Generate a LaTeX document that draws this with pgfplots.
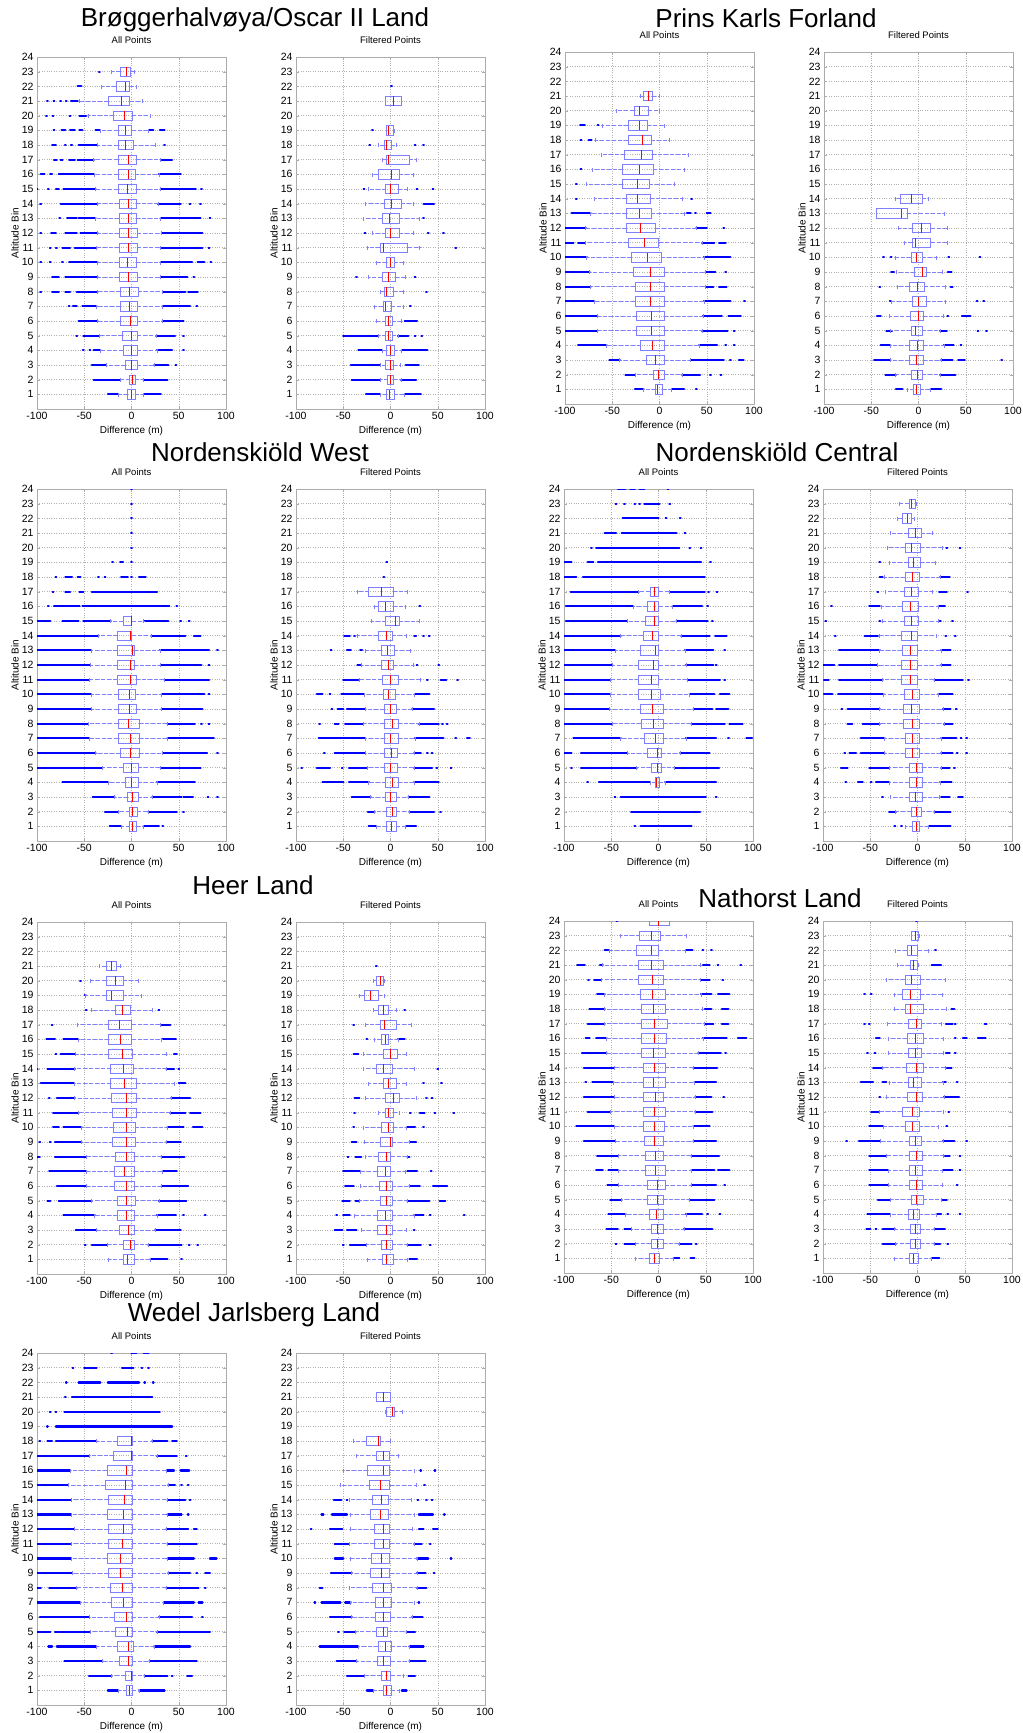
\documentclass[border=0pt]{standalone}
\usepackage{fontspec}
\setmainfont{Liberation Sans}
\usepackage{pgfplots}
\pgfplotsset{compat=1.18}
\usepgfplotslibrary{statistics}
\pgfplotsset{
 pan/.style={
  scale only axis, width=189pt, height=352pt, anchor=north west,
  xmin=-100, xmax=100, ymin=0, ymax=24,
  xtick={-100,-50,0,50,100}, ytick={1,...,24},
  grid=major, grid style={dotted, gray!60, line width=0.5pt},
  axis line style={gray!65, line width=0.8pt},
  tick style={gray!65}, tick align=inside, major tick length=3pt,
  /pgf/number format/assume math mode=true,
  ticklabel style={font=\fontsize{10.5}{12}\selectfont},
  xlabel={Difference (m)}, ylabel={Altitude Bin},
  xlabel style={at={(axis description cs:0.5,-0.0625)}, anchor=center, font=\fontsize{10}{12}\selectfont},
  ylabel style={at={(axis description cs:-0.116,0.5)}, anchor=center, font=\fontsize{10}{12}\selectfont},
  title style={at={(axis description cs:0.5,1.031)}, anchor=center, font=\fontsize{9.5}{11}\selectfont},
  boxplot/draw direction=x, boxplot/box extend=0.62, boxplot/whisker extend=0.32,
  boxplot/every median/.style={draw=red, line width=0.8pt, solid},
  boxplot/every whisker/.style={dash pattern=on 4pt off 2pt},
 },
 bxs/.style={draw=blue!50, line width=0.7pt, mark=none},
}
\newcommand\BX[6]{\addplot[bxs, boxplot prepared={draw position=#1, lower whisker=#2, lower quartile=#3, median=#4, upper quartile=#5, upper whisker=#6}] coordinates {};}
\newcommand\OL[1]{\addplot[draw=none, mark=none, forget plot, error bars/.cd, x dir=both, x explicit, error mark=none, error bar style={line width=2.3pt, draw=blue, line cap=round, solid}] table[row sep=\\, x expr={(\thisrow{lo}+\thisrow{hi})/2}, y=y, x error expr={max((\thisrow{hi}-\thisrow{lo})/2,0.3)}] {y lo hi\\ #1};}
\begin{document}
\begin{tikzpicture}
\fill[white] (0,0) rectangle (1023pt,-1733pt);
\useasboundingbox (0,0) rectangle (1023pt,-1733pt);
\tikzset{ttl/.style={font=\fontsize{26}{30}\selectfont, anchor=center}}
\node[ttl] at (255pt,-20pt) {Brøggerhalvøya/Oscar II Land};
\node[ttl] at (766pt,-18pt) {Prins Karls Forland};
\node[ttl] at (260pt,-452pt) {Nordenskiöld West};
\node[ttl] at (777pt,-452pt) {Nordenskiöld Central};
\node[ttl] at (253pt,-885pt) {Heer Land};
\node[ttl] at (780pt,-898pt) {Nathorst Land};
\node[ttl] at (254pt,-1315pt) {Wedel Jarlsberg Land};

% ---------- 1A Broggerhalvoya All
\begin{axis}[pan, at={(37pt,-57pt)}, title={All Points}]
\OL{23 -34 -34\\22 -57 -53\\21 -89 -89\\21 -82 -82\\21 -75 -75\\21 -69 -69\\21 -64 -57\\20 -90 -90\\20 -83 -83\\20 -65 -65\\20 -55 -48\\19 -82 -82\\19 -74 -70\\19 -65 -60\\19 -55 -52\\19 -38 -34\\19 19 23\\19 30 35\\18 -84 -80\\18 -70 -70\\18 -64 -63\\18 -56 -37\\18 35 35\\17 -82 -79\\17 -75 -73\\17 -66 -60\\17 -57 -40\\17 32 43\\16 -96 -92\\16 -86 -84\\16 -77 -40\\16 29 52\\15 -100 -100\\15 -88 -88\\15 -80 -77\\15 -72 -38\\15 31 68\\15 74 74\\14 -96 -96\\14 -75 -36\\14 28 52\\14 62 62\\14 73 73\\13 -76 -76\\13 -68 -58\\13 -56 -38\\13 31 73\\13 83 83\\12 -96 -96\\12 -85 -80\\12 -70 -58\\12 -54 -36\\12 32 75\\11 -86 -86\\11 -80 -79\\11 -73 -65\\11 -60 -37\\11 31 75\\11 82 82\\10 -96 -96\\10 -86 -86\\10 -73 -73\\10 -66 -36\\10 31 64\\10 70 77\\10 84 84\\9 -84 -77\\9 -70 -36\\9 31 59\\9 66 66\\8 -96 -96\\8 -84 -77\\8 -70 -65\\8 -58 -36\\8 33 57\\8 60 70\\7 -66 -66\\7 -62 -58\\7 -52 -37\\7 33 62\\7 69 69\\6 -56 -36\\6 33 55\\5 -58 -58\\5 -51 -34\\5 26 46\\5 55 55\\4 -51 -51\\4 -44 -44\\4 -40 -33\\4 27 43\\4 55 55\\3 -42 -27\\3 24 39\\3 47 47\\2 -40 -12\\2 13 38\\1 -25 -14\\1 14 31\\}
\BX{23}{-21}{-12}{-5}{-1}{3}
\BX{22}{-32}{-16}{-6}{-2}{5}
\BX{21}{-55}{-25}{-11}{-2}{11}
\BX{20}{-46}{-19}{-8}{1}{20}
\BX{19}{-33}{-14}{-6}{0}{18}
\BX{18}{-36}{-14}{-6}{2}{25}
\BX{17}{-40}{-14}{-3}{5}{30}
\BX{16}{-39}{-14}{-3}{4}{29}
\BX{15}{-38}{-14}{-4}{5}{30}
\BX{14}{-36}{-13}{-3}{5}{28}
\BX{13}{-38}{-13}{-3}{5}{31}
\BX{12}{-36}{-13}{-3}{6}{32}
\BX{11}{-37}{-13}{-3}{6}{31}
\BX{10}{-36}{-13}{-4}{5}{31}
\BX{9}{-36}{-13}{-3}{6}{31}
\BX{8}{-36}{-12}{-2}{7}{33}
\BX{7}{-37}{-12}{-2}{6}{33}
\BX{6}{-36}{-12}{-1}{6}{33}
\BX{5}{-34}{-10}{0}{6}{26}
\BX{4}{-33}{-9}{0}{6}{27}
\BX{3}{-27}{-7}{0}{6}{24}
\BX{2}{-12}{-2}{1}{4}{13}
\BX{1}{-14}{-4}{0}{4}{13}
\end{axis}

% ---------- 1B Broggerhalvoya Filtered
\begin{axis}[pan, at={(296pt,-57pt)}, title={Filtered Points}]
\OL{22 1 1\\19 -19 -19\\18 -22 -22\\18 26 26\\18 35 35\\15 -28 -28\\15 28 28\\15 45 45\\14 35 46\\13 35 35\\12 -27 -27\\12 40 40\\12 56 56\\11 69 69\\9 -36 -36\\9 26 26\\8 38 38\\7 21 21\\6 15 28\\5 -50 -13\\5 8 19\\5 26 26\\5 33 33\\4 -34 -9\\4 12 39\\3 -42 -11\\3 16 30\\2 -41 -11\\2 11 27\\1 -26 -11\\1 15 32\\}
\BX{21}{-5}{-5}{3}{11}{11}
\BX{19}{-4}{-4}{-2}{3}{4}
\BX{18}{-13}{-7}{-4}{1}{6}
\BX{17}{-9}{-4}{-2}{20}{27}
\BX{16}{-19}{-13}{1}{9}{24}
\BX{15}{-23}{-5}{0}{8}{18}
\BX{14}{-27}{-6}{1}{11}{24}
\BX{13}{-29}{-9}{-1}{9}{31}
\BX{12}{-19}{-5}{0}{9}{24}
\BX{11}{-24}{-11}{-7}{18}{31}
\BX{10}{-15}{-4}{0}{4}{14}
\BX{9}{-23}{-9}{-2}{5}{16}
\BX{8}{-11}{-6}{-4}{3}{14}
\BX{7}{-17}{-8}{-5}{1}{14}
\BX{6}{-15}{-5}{-2}{2}{12}
\BX{5}{-13}{-5}{-2}{2}{8}
\BX{4}{-9}{-4}{0}{4}{11}
\BX{3}{-11}{-5}{0}{3}{10}
\BX{2}{-11}{-3}{0}{3}{11}
\BX{1}{-11}{-4}{-1}{4}{15}
\end{axis}

% ---------- 2A Prins Karls All
\begin{axis}[pan, at={(565pt,-52pt)}, title={All Points}]
\OL{19 -84 -79\\19 -65 -65\\18 -83 -83\\18 -75 -72\\16 -83 -83\\15 -88 -88\\14 -88 -88\\14 34 34\\13 -93 -73\\13 29 33\\13 38 38\\13 50 54\\12 -100 -78\\12 39 50\\12 68 68\\11 -100 -91\\11 -86 -79\\11 45 58\\11 63 70\\10 -100 -77\\10 47 75\\9 -100 -74\\9 49 59\\9 70 70\\8 -100 -73\\8 49 57\\8 63 71\\7 -100 -69\\7 47 75\\7 90 90\\6 -100 -66\\6 46 66\\6 73 86\\5 -100 -66\\5 45 72\\5 79 79\\4 -86 -56\\4 42 61\\4 70 70\\4 79 79\\3 -53 -42\\3 33 68\\3 75 75\\3 84 89\\2 -36 -26\\2 24 43\\2 54 54\\2 65 65\\1 -26 -17\\1 13 26\\1 39 39\\}
\BX{21}{-20}{-17}{-12}{-8}{0}
\BX{20}{-46}{-27}{-21}{-12}{0}
\BX{19}{-61}{-33}{-21}{-13}{5}
\BX{18}{-68}{-33}{-18}{-9}{10}
\BX{17}{-62}{-37}{-19}{-8}{30}
\BX{16}{-71}{-39}{-21}{-7}{26}
\BX{15}{-77}{-39}{-23}{-11}{16}
\BX{14}{-69}{-35}{-23}{-10}{24}
\BX{13}{-73}{-35}{-21}{-9}{26}
\BX{12}{-78}{-35}{-20}{-4}{39}
\BX{11}{-79}{-33}{-16}{-1}{45}
\BX{10}{-77}{-30}{-13}{2}{47}
\BX{9}{-74}{-28}{-10}{5}{49}
\BX{8}{-73}{-26}{-10}{5}{49}
\BX{7}{-69}{-26}{-10}{5}{47}
\BX{6}{-66}{-24}{-9}{5}{46}
\BX{5}{-66}{-24}{-9}{5}{45}
\BX{4}{-56}{-20}{-7}{5}{42}
\BX{3}{-42}{-14}{-4}{5}{33}
\BX{2}{-26}{-7}{-1}{5}{24}
\BX{1}{-17}{-4}{-2}{3}{13}
\end{axis}

% ---------- 2B Prins Karls Filtered
\begin{axis}[pan, at={(824pt,-52pt)}, title={Filtered Points}]
\OL{10 -37 -37\\10 -29 -29\\10 32 32\\10 65 65\\9 -29 -26\\9 31 35\\8 -41 -41\\8 34 36\\7 -30 -30\\7 62 62\\7 69 69\\6 -44 -40\\6 31 31\\6 46 55\\5 -34 -28\\5 23 30\\5 63 63\\5 72 72\\4 -40 -30\\4 27 37\\4 45 45\\3 -47 -30\\3 24 36\\3 42 49\\3 88 88\\2 -35 -24\\2 23 39\\1 -24 -17\\1 13 24\\}
\BX{14}{-24}{-19}{-8}{4}{10}
\BX{13}{-45}{-45}{-18}{-12}{27}
\BX{12}{-21}{-6}{3}{13}{31}
\BX{11}{-15}{-7}{-3}{13}{30}
\BX{10}{-25}{-8}{-2}{4}{19}
\BX{9}{-23}{-4}{4}{8}{25}
\BX{8}{-22}{-10}{-1}{6}{28}
\BX{7}{-29}{-6}{0}{8}{28}
\BX{6}{-31}{-9}{0}{5}{26}
\BX{5}{-30}{-8}{-3}{4}{23}
\BX{4}{-30}{-10}{-1}{5}{27}
\BX{3}{-30}{-10}{-2}{5}{24}
\BX{2}{-24}{-8}{-1}{4}{23}
\BX{1}{-12}{-5}{-2}{2}{13}
\end{axis}

% ---------- 3A Nordenskiold West All
\begin{axis}[pan, at={(37pt,-489pt)}, title={All Points}]
\OL{24 0 0\\23 0 0\\22 0 0\\21 0 0\\20 0 0\\19 -20 -20\\19 -12 -9\\19 0 0\\18 -80 -80\\18 -70 -63\\18 -57 -54\\18 -35 -35\\18 -28 -28\\18 -11 -4\\18 0 0\\18 8 15\\17 -83 -83\\17 -70 -65\\17 -55 -51\\17 -42 27\\16 -88 -88\\16 -82 -55\\16 -52 40\\16 48 48\\15 -100 -86\\15 -73 -56\\15 -51 -22\\15 13 39\\15 52 52\\15 61 61\\14 -100 -35\\14 21 57\\14 66 73\\13 -100 -43\\13 30 82\\13 91 91\\12 -100 -44\\12 31 74\\12 82 82\\11 -100 -45\\11 35 82\\10 -100 -43\\10 32 77\\10 82 82\\9 -100 -43\\9 32 75\\8 -100 -46\\8 38 67\\8 74 74\\8 82 82\\7 -100 -45\\7 38 87\\6 -100 -38\\6 33 80\\6 91 91\\5 -100 -31\\5 31 73\\4 -73 -25\\4 27 67\\3 -41 -18\\3 22 53\\3 55 65\\3 81 81\\3 91 91\\2 -28 -14\\2 18 48\\2 55 55\\1 -23 -11\\1 13 29\\1 33 33\\}
\BX{15}{-22}{-9}{0}{0}{13}
\BX{14}{-35}{-15}{-1}{0}{21}
\BX{13}{-43}{-15}{1}{3}{30}
\BX{12}{-44}{-15}{-1}{3}{31}
\BX{11}{-45}{-15}{-1}{5}{35}
\BX{10}{-43}{-14}{-2}{4}{32}
\BX{9}{-43}{-14}{-2}{5}{32}
\BX{8}{-46}{-14}{-3}{8}{38}
\BX{7}{-45}{-14}{-1}{8}{38}
\BX{6}{-38}{-12}{-1}{8}{33}
\BX{5}{-31}{-9}{0}{7}{31}
\BX{4}{-25}{-6}{0}{7}{27}
\BX{3}{-18}{-4}{1}{7}{22}
\BX{2}{-14}{-2}{1}{6}{18}
\BX{1}{-11}{-2}{1}{5}{13}
\end{axis}

% ---------- 3B Nordenskiold West Filtered
\begin{axis}[pan, at={(296pt,-489pt)}, title={Filtered Points}]
\OL{19 -4 -4\\18 -7 -7\\16 31 31\\14 -49 -43\\14 -38 -38\\14 25 27\\14 35 35\\14 41 41\\13 -63 -63\\13 -46 -42\\13 -32 -30\\12 -35 -32\\12 28 28\\12 51 51\\11 -50 -34\\11 39 39\\11 53 59\\11 71 71\\10 -78 -72\\10 -64 -64\\10 -52 -28\\10 26 41\\9 -62 -62\\9 -56 -50\\9 -46 -27\\9 23 46\\8 -75 -75\\8 -59 -55\\8 -48 -29\\8 30 51\\8 55 55\\8 60 60\\7 -76 -27\\7 26 56\\7 69 69\\7 81 84\\6 -70 -70\\6 -59 -27\\6 25 32\\6 39 39\\6 44 44\\5 -94 -94\\5 -78 -64\\5 -51 -51\\5 -44 -25\\5 25 44\\5 49 49\\5 64 64\\4 -72 -50\\4 -44 -23\\4 25 51\\3 -41 -21\\3 19 41\\2 -24 -17\\2 20 46\\2 53 53\\1 -23 -15\\1 17 27\\}
\BX{17}{-35}{-23}{-10}{3}{18}
\BX{16}{-17}{-13}{-5}{3}{16}
\BX{15}{-20}{-5}{5}{9}{30}
\BX{14}{-35}{-13}{-4}{2}{17}
\BX{13}{-27}{-10}{-3}{4}{21}
\BX{12}{-31}{-10}{-2}{3}{24}
\BX{11}{-33}{-9}{0}{8}{32}
\BX{10}{-28}{-8}{-2}{5}{25}
\BX{9}{-27}{-7}{0}{6}{23}
\BX{8}{-29}{-7}{2}{8}{30}
\BX{7}{-27}{-6}{0}{8}{26}
\BX{6}{-27}{-7}{1}{7}{25}
\BX{5}{-25}{-6}{0}{7}{25}
\BX{4}{-23}{-5}{2}{8}{25}
\BX{3}{-21}{-5}{0}{6}{19}
\BX{2}{-17}{-4}{2}{6}{20}
\BX{1}{-15}{-4}{1}{6}{16}
\end{axis}

% ---------- 4A Nordenskiold Central All
\begin{axis}[pan, at={(564pt,-489pt)}, title={All Points}]
\OL{24 -43 -35\\24 -30 -25\\24 -20 -15\\24 10 10\\23 -45 -45\\23 -36 -36\\23 -25 -25\\23 -20 -20\\23 -15 1\\23 12 12\\22 -38 0\\22 8 8\\22 23 23\\21 -57 -45\\21 -39 19\\21 28 28\\20 -71 -71\\20 -66 22\\20 33 33\\20 45 45\\19 -100 -92\\19 -75 -69\\19 -64 45\\19 55 55\\18 -100 -87\\18 -80 49\\17 -93 -21\\17 12 49\\17 53 53\\17 62 62\\16 -98 -27\\16 15 46\\16 52 52\\15 -98 -33\\15 19 52\\15 57 57\\14 -100 -40\\14 24 54\\14 60 72\\13 -100 -46\\13 28 58\\13 70 70\\12 -100 -49\\12 29 58\\12 61 61\\11 -100 -51\\11 31 65\\11 70 70\\10 -100 -51\\10 33 59\\10 65 75\\9 -100 -52\\9 37 57\\9 61 74\\8 -100 -49\\8 35 70\\8 75 89\\7 -90 -40\\7 29 61\\7 74 74\\7 93 99\\6 -100 -92\\6 -82 -33\\6 23 54\\5 -92 -92\\5 -82 -23\\5 17 64\\4 -75 -75\\4 -63 -9\\4 7 61\\3 -46 -46\\3 -40 50\\3 61 61\\2 -29 44\\1 -25 -25\\1 -19 35\\}
\BX{17}{-21}{-9}{-4}{0}{12}
\BX{16}{-27}{-12}{-4}{0}{15}
\BX{15}{-33}{-14}{-4}{0}{19}
\BX{14}{-40}{-16}{-6}{0}{24}
\BX{13}{-46}{-19}{-3}{0}{28}
\BX{12}{-49}{-21}{-5}{0}{29}
\BX{11}{-51}{-21}{-8}{0}{31}
\BX{10}{-51}{-21}{-8}{2}{33}
\BX{9}{-52}{-19}{-6}{5}{37}
\BX{8}{-49}{-18}{-5}{5}{35}
\BX{7}{-40}{-15}{-3}{5}{29}
\BX{6}{-33}{-12}{-1}{3}{23}
\BX{5}{-23}{-8}{-1}{3}{17}
\BX{4}{-9}{-3}{-2}{1}{7}
\end{axis}

% ---------- 4B Nordenskiold Central Filtered
\begin{axis}[pan, at={(823pt,-489pt)}, title={Filtered Points}]
\OL{20 31 31\\20 45 45\\19 -40 -40\\18 -40 -37\\18 24 34\\17 -42 -42\\17 23 31\\17 53 53\\16 -91 -91\\16 -51 -40\\16 23 29\\15 -97 -97\\15 -40 -40\\15 24 24\\15 37 37\\14 -87 -87\\14 -56 -42\\14 30 30\\14 40 40\\13 -83 -40\\13 25 35\\12 -100 -88\\12 -83 -43\\12 25 35\\11 -99 -94\\11 -83 -37\\11 18 48\\11 54 54\\10 -99 -90\\10 -84 -36\\10 22 37\\9 -80 -80\\9 -74 -40\\9 27 35\\9 41 41\\8 -74 -69\\8 -58 -40\\8 28 37\\7 -60 -35\\7 25 41\\7 46 46\\7 52 52\\6 -77 -77\\6 -72 -65\\6 -60 -35\\6 25 37\\6 42 42\\6 52 52\\5 -81 -74\\5 -51 -30\\5 25 34\\5 39 39\\4 -76 -76\\4 -63 -58\\4 -49 -49\\4 -44 -30\\4 24 36\\3 -37 -37\\3 25 34\\3 43 48\\2 -30 -23\\2 18 35\\1 -24 -24\\1 -17 -17\\1 12 35\\}
\BX{23}{-19}{-9}{-6}{-2}{-1}
\BX{22}{-21}{-16}{-11}{-7}{-3}
\BX{21}{-29}{-10}{-2}{4}{16}
\BX{20}{-32}{-13}{-6}{3}{26}
\BX{19}{-30}{-10}{-4}{3}{19}
\BX{18}{-35}{-13}{-5}{2}{24}
\BX{17}{-34}{-14}{-6}{1}{16}
\BX{16}{-38}{-16}{-8}{1}{22}
\BX{15}{-37}{-14}{-6}{1}{22}
\BX{14}{-40}{-17}{-6}{0}{20}
\BX{13}{-40}{-16}{-8}{0}{25}
\BX{12}{-43}{-17}{-8}{0}{25}
\BX{11}{-37}{-17}{-8}{0}{18}
\BX{10}{-36}{-14}{-5}{2}{22}
\BX{9}{-40}{-15}{-6}{2}{27}
\BX{8}{-40}{-15}{-5}{2}{28}
\BX{7}{-35}{-13}{-5}{2}{25}
\BX{6}{-35}{-13}{-5}{2}{25}
\BX{5}{-30}{-9}{-1}{5}{25}
\BX{4}{-30}{-9}{-1}{5}{24}
\BX{3}{-29}{-9}{-2}{5}{23}
\BX{2}{-23}{-7}{-1}{4}{18}
\BX{1}{-13}{-5}{-1}{2}{12}
\end{axis}

% ---------- 5A Heer Land All
\begin{axis}[pan, at={(37pt,-922pt)}, title={All Points}]
\OL{20 -54 -54\\19 -49 -49\\18 -48 -48\\18 29 29\\17 -84 -84\\17 32 41\\16 -90 -81\\16 -72 -57\\16 32 47\\15 -80 -80\\15 -75 -60\\15 45 48\\14 -100 -100\\14 -89 -60\\14 37 45\\14 50 50\\13 -96 -61\\13 50 57\\12 -87 -87\\12 -79 -60\\12 42 62\\11 -83 -56\\11 41 57\\11 62 73\\10 -83 -77\\10 -72 -53\\10 38 55\\10 65 75\\9 -97 -97\\9 -86 -86\\9 -81 -53\\9 37 52\\8 -100 -97\\8 -81 -48\\8 32 56\\7 -87 -48\\7 33 48\\6 -79 -48\\6 32 60\\5 -89 -86\\5 -77 -42\\5 29 58\\4 -72 -39\\4 27 47\\4 55 55\\4 78 78\\3 -59 -37\\3 25 52\\2 -49 -49\\2 -42 -26\\2 18 53\\2 61 61\\2 70 70\\1 20 38\\1 53 53\\}
\BX{21}{-34}{-27}{-21}{-16}{-12}
\BX{20}{-44}{-27}{-17}{-9}{7}
\BX{19}{-49}{-27}{-21}{-9}{10}
\BX{18}{-42}{-17}{-10}{-1}{22}
\BX{17}{-57}{-24}{-13}{0}{31}
\BX{16}{-56}{-24}{-12}{0}{32}
\BX{15}{-59}{-24}{-10}{1}{37}
\BX{14}{-60}{-22}{-9}{2}{37}
\BX{13}{-61}{-22}{-7}{5}{45}
\BX{12}{-60}{-21}{-5}{5}{42}
\BX{11}{-56}{-20}{-5}{5}{41}
\BX{10}{-53}{-19}{-5}{4}{38}
\BX{9}{-53}{-20}{-5}{4}{37}
\BX{8}{-48}{-17}{-5}{3}{32}
\BX{7}{-48}{-18}{-7}{3}{33}
\BX{6}{-48}{-18}{-5}{3}{32}
\BX{5}{-42}{-15}{-5}{4}{29}
\BX{4}{-39}{-15}{-5}{3}{27}
\BX{3}{-37}{-13}{-3}{3}{25}
\BX{2}{-26}{-9}{-1}{3}{18}
\BX{1}{-25}{-9}{-4}{3}{20}
\end{axis}

% ---------- 5B Heer Land Filtered
\begin{axis}[pan, at={(296pt,-922pt)}, title={Filtered Points}]
\OL{21 -15 -15\\18 15 15\\17 -39 -39\\16 -25 -25\\16 8 15\\15 -39 -34\\14 50 50\\13 35 35\\13 54 54\\12 -38 -33\\12 38 38\\12 44 44\\11 -38 -38\\11 21 21\\11 31 36\\11 47 47\\11 67 67\\10 -39 -39\\10 18 26\\10 35 35\\9 -41 -36\\9 20 27\\8 -45 -45\\8 -37 -31\\8 18 20\\7 -50 -32\\7 18 28\\7 43 43\\6 -48 -39\\6 20 31\\6 45 60\\5 -51 -43\\5 -37 -33\\5 18 41\\5 52 58\\4 -57 -57\\4 -50 -43\\4 25 35\\4 42 42\\4 78 78\\3 -59 -51\\3 -46 -36\\3 25 25\\2 -50 -50\\2 -43 -26\\2 18 32\\2 42 42\\1 20 28\\}
\BX{20}{-18}{-15}{-11}{-8}{-6}
\BX{19}{-33}{-28}{-21}{-13}{-6}
\BX{18}{-18}{-13}{-7}{-2}{6}
\BX{17}{-27}{-11}{-6}{6}{22}
\BX{16}{-17}{-10}{-5}{-2}{8}
\BX{15}{-29}{-8}{0}{7}{17}
\BX{14}{-29}{-15}{-8}{2}{25}
\BX{13}{-23}{-8}{-2}{6}{17}
\BX{12}{-27}{-5}{3}{9}{27}
\BX{11}{-13}{-5}{-2}{3}{9}
\BX{10}{-29}{-10}{-2}{3}{17}
\BX{9}{-28}{-11}{0}{2}{20}
\BX{8}{-27}{-13}{-4}{0}{18}
\BX{7}{-32}{-14}{-5}{0}{16}
\BX{6}{-32}{-12}{-4}{2}{20}
\BX{5}{-33}{-11}{-4}{2}{18}
\BX{4}{-38}{-14}{-5}{2}{25}
\BX{3}{-31}{-14}{-4}{2}{17}
\BX{2}{-26}{-10}{-4}{2}{18}
\BX{1}{-25}{-9}{-4}{3}{18}
\end{axis}

% ---------- 6A Nathorst All
\begin{axis}[pan, at={(564pt,-921pt)}, title={All Points}]
\OL{24 -44 -44\\22 -57 -53\\22 29 36\\22 47 47\\22 56 56\\21 -86 -78\\21 -62 -59\\21 47 54\\21 63 63\\21 87 87\\20 -74 -74\\20 -68 -61\\20 45 54\\20 68 68\\19 -65 -57\\19 45 56\\19 63 75\\18 -73 -57\\18 49 56\\18 67 74\\17 -75 -57\\17 49 58\\17 67 74\\16 -77 -73\\16 -66 -55\\16 47 72\\16 84 93\\15 -81 -55\\15 42 66\\15 71 71\\14 -79 -47\\14 37 62\\13 -77 -77\\13 -70 -48\\13 38 61\\12 -79 -47\\12 39 56\\12 69 69\\11 -75 -51\\11 39 57\\10 -87 -47\\10 37 54\\9 -79 -46\\9 37 61\\8 -65 -43\\8 35 64\\7 -66 -59\\7 -53 -43\\7 35 59\\7 63 75\\6 -54 -43\\6 35 61\\6 70 70\\5 -51 -39\\5 33 59\\4 -53 -35\\4 29 46\\4 52 52\\4 65 65\\3 -55 -43\\3 -36 -29\\3 27 57\\2 -45 -45\\2 -36 -25\\2 22 35\\2 40 40\\1 16 22\\1 34 38\\}
\BX{24}{-10}{-10}{0}{11}{11}
\BX{23}{-40}{-20}{-8}{2}{29}
\BX{22}{-52}{-23}{-7}{0}{28}
\BX{21}{-59}{-21}{-8}{5}{44}
\BX{20}{-61}{-21}{-6}{5}{44}
\BX{19}{-57}{-19}{-6}{7}{45}
\BX{18}{-57}{-18}{-5}{7}{46}
\BX{17}{-57}{-18}{-4}{9}{49}
\BX{16}{-55}{-18}{-4}{8}{47}
\BX{15}{-55}{-18}{-5}{7}{42}
\BX{14}{-47}{-16}{-4}{7}{37}
\BX{13}{-48}{-16}{-5}{7}{38}
\BX{12}{-47}{-16}{-3}{5}{39}
\BX{11}{-51}{-16}{-4}{7}{39}
\BX{10}{-47}{-16}{-4}{6}{37}
\BX{9}{-46}{-15}{-4}{5}{37}
\BX{8}{-43}{-14}{-3}{5}{35}
\BX{7}{-43}{-14}{-3}{7}{35}
\BX{6}{-43}{-12}{-1}{7}{35}
\BX{5}{-39}{-12}{-1}{5}{33}
\BX{4}{-35}{-10}{-2}{5}{29}
\BX{3}{-29}{-8}{-1}{5}{27}
\BX{2}{-25}{-8}{-1}{5}{22}
\BX{1}{-25}{-10}{-4}{1}{16}
\end{axis}

% ---------- 6B Nathorst Filtered
\begin{axis}[pan, at={(823pt,-921pt)}, title={Filtered Points}]
\OL{24 -1 -1\\22 19 19\\21 15 25\\19 -56 -56\\19 -49 -49\\18 36 39\\17 -56 -56\\17 -51 -51\\17 30 37\\17 40 40\\17 71 73\\16 -44 -40\\16 40 40\\16 48 52\\16 64 72\\15 -53 -53\\15 -45 -45\\15 30 34\\15 40 40\\14 -47 -37\\14 31 36\\13 -60 -47\\13 -37 -33\\13 27 30\\13 42 42\\12 -40 -40\\12 28 44\\11 -49 -41\\11 33 33\\10 -51 -37\\10 31 31\\9 -75 -75\\9 -62 -40\\9 27 39\\9 52 52\\8 -51 -33\\8 29 34\\8 45 45\\7 -51 -31\\7 27 37\\7 45 45\\6 -51 -31\\6 42 42\\5 -42 -29\\5 26 31\\4 -53 -29\\4 20 25\\4 32 32\\4 45 45\\3 -54 -50\\3 -44 -44\\3 -37 -24\\3 18 29\\2 -37 -23\\2 18 24\\2 32 32\\1 15 23\\}
\BX{23}{-7}{-6}{-2}{1}{2}
\BX{22}{-23}{-11}{-6}{0}{12}
\BX{21}{-21}{-8}{-4}{0}{1}
\BX{20}{-33}{-13}{-6}{3}{29}
\BX{19}{-24}{-16}{-8}{3}{26}
\BX{18}{-24}{-13}{-8}{6}{30}
\BX{17}{-32}{-10}{-1}{4}{25}
\BX{16}{-31}{-11}{-2}{6}{27}
\BX{15}{-31}{-10}{-2}{4}{27}
\BX{14}{-37}{-12}{-1}{6}{29}
\BX{13}{-30}{-10}{-4}{4}{27}
\BX{12}{-33}{-11}{-1}{5}{28}
\BX{11}{-40}{-16}{-5}{2}{27}
\BX{10}{-36}{-13}{-5}{2}{22}
\BX{9}{-39}{-9}{-2}{4}{27}
\BX{8}{-33}{-9}{-1}{5}{27}
\BX{7}{-31}{-9}{-2}{5}{26}
\BX{6}{-31}{-9}{-1}{5}{26}
\BX{5}{-29}{-7}{-1}{6}{25}
\BX{4}{-29}{-10}{-4}{2}{20}
\BX{3}{-24}{-8}{-2}{3}{18}
\BX{2}{-23}{-8}{-2}{3}{18}
\BX{1}{-25}{-9}{-4}{1}{15}
\end{axis}

% ---------- 7A Wedel Jarlsberg All
\begin{axis}[pan, at={(37pt,-1353pt)}, title={All Points}]
\OL{24 -21 -21\\24 0 5\\24 13 18\\23 -62 -62\\23 -50 -37\\23 -10 2\\23 11 11\\23 18 18\\22 -69 -69\\22 -56 -33\\22 -25 8\\22 14 14\\22 23 23\\21 -70 -70\\21 -63 22\\20 -86 -86\\20 -80 -80\\20 -71 30\\19 -89 -89\\19 -80 43\\18 -97 -97\\18 -89 -84\\18 -80 -37\\18 22 38\\18 43 48\\17 -100 -45\\17 27 48\\17 58 58\\16 -100 -65\\16 38 45\\16 52 61\\15 -100 -67\\15 39 46\\15 53 53\\15 60 60\\14 -100 -64\\14 38 57\\14 62 62\\13 -100 -64\\13 38 53\\13 60 60\\12 -100 -61\\12 37 60\\12 66 69\\11 -100 -64\\11 38 69\\10 -100 -64\\10 38 66\\10 83 90\\9 -100 -63\\9 39 62\\9 69 69\\9 78 83\\8 -100 -96\\8 -87 -58\\8 37 71\\8 78 78\\7 -100 -54\\7 34 66\\7 71 75\\6 -97 -45\\6 29 64\\6 75 75\\5 -100 -86\\5 -81 -44\\5 27 83\\4 -88 -84\\4 -79 -37\\4 24 62\\3 -71 -31\\3 19 69\\2 -45 -21\\2 14 38\\2 43 43\\2 59 64\\1 -25 -14\\1 8 35\\}
\BX{18}{-37}{-15}{0}{1}{22}
\BX{17}{-45}{-19}{0}{1}{27}
\BX{16}{-65}{-26}{-5}{1}{37}
\BX{15}{-67}{-28}{-6}{1}{39}
\BX{14}{-64}{-25}{-8}{1}{38}
\BX{13}{-64}{-26}{-9}{1}{38}
\BX{12}{-61}{-25}{-9}{1}{37}
\BX{11}{-64}{-25}{-10}{1}{38}
\BX{10}{-64}{-26}{-12}{1}{38}
\BX{9}{-63}{-25}{-12}{1}{39}
\BX{8}{-58}{-22}{-10}{1}{37}
\BX{7}{-54}{-21}{-9}{1}{34}
\BX{6}{-45}{-18}{-5}{1}{29}
\BX{5}{-44}{-17}{-4}{1}{27}
\BX{4}{-37}{-15}{-3}{2}{24}
\BX{3}{-31}{-13}{-3}{1}{19}
\BX{2}{-21}{-7}{0}{1}{14}
\BX{1}{-14}{-5}{-2}{1}{8}
\end{axis}

% ---------- 7B Wedel Jarlsberg Filtered
\begin{axis}[pan, at={(296pt,-1353pt)}, title={Filtered Points}]
\OL{16 32 32\\16 47 47\\15 36 36\\14 -60 -52\\14 -46 -46\\14 29 29\\14 38 38\\14 44 44\\13 -73 -71\\13 -62 -46\\13 30 45\\13 57 57\\12 -84 -84\\12 -64 -51\\12 30 35\\12 45 50\\11 -59 -44\\11 25 33\\11 42 42\\10 -59 -50\\10 28 40\\10 64 64\\9 -63 -41\\9 28 37\\9 46 46\\8 -75 -72\\8 28 38\\7 -80 -80\\7 -73 -53\\7 -48 -42\\7 30 30\\6 -64 -41\\6 23 34\\5 -55 -55\\5 -49 -37\\5 17 26\\4 -75 -34\\4 20 35\\3 -57 -36\\3 20 37\\2 -46 -28\\2 19 26\\1 -25 -18\\1 12 17\\}
\BX{21}{-15}{-15}{-7}{0}{0}
\BX{20}{-5}{-4}{2}{4}{13}
\BX{18}{-39}{-26}{-13}{-11}{0}
\BX{17}{-36}{-15}{-7}{-1}{8}
\BX{16}{-50}{-24}{-8}{-1}{25}
\BX{15}{-53}{-22}{-11}{-1}{27}
\BX{14}{-44}{-19}{-10}{-2}{22}
\BX{13}{-43}{-21}{-11}{-2}{25}
\BX{12}{-43}{-17}{-7}{-1}{23}
\BX{11}{-44}{-17}{-8}{-1}{25}
\BX{10}{-43}{-20}{-10}{-1}{28}
\BX{9}{-41}{-21}{-10}{-1}{28}
\BX{8}{-44}{-19}{-8}{1}{28}
\BX{7}{-42}{-16}{-8}{1}{25}
\BX{6}{-41}{-16}{-7}{0}{23}
\BX{5}{-37}{-15}{-8}{-3}{17}
\BX{4}{-34}{-13}{-5}{1}{20}
\BX{3}{-36}{-14}{-7}{0}{20}
\BX{2}{-28}{-10}{-4}{0}{14}
\BX{1}{-18}{-8}{-4}{1}{9}
\end{axis}
\end{tikzpicture}
\end{document}
